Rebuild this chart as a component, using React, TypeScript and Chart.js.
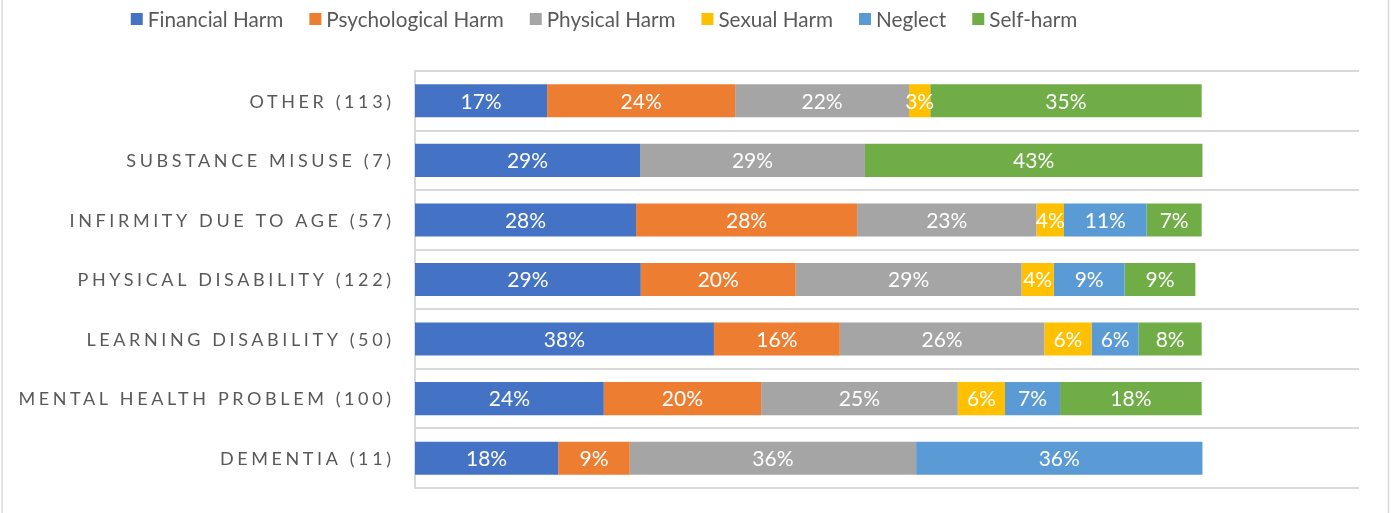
import React, { useEffect, useRef } from "react";
import { Chart, registerables } from "chart.js";

Chart.register(...registerables);

const categories = [
  "OTHER (113)",
  "SUBSTANCE MISUSE (7)",
  "INFIRMITY DUE TO AGE (57)",
  "PHYSICAL DISABILITY (122)",
  "LEARNING DISABILITY (50)",
  "MENTAL HEALTH PROBLEM (100)",
  "DEMENTIA (11)",
];

const seriesNames = ["Financial Harm", "Psychological Harm", "Physical Harm", "Sexual Harm", "Neglect", "Self-harm"];
const seriesColors = ["#4472C4", "#ED7D31", "#A5A5A5", "#FFC000", "#5B9BD5", "#70AD47"];

const financialHarm = [16.8, 28.6, 28.1, 28.7, 38, 24, 18.2];
const psychologicalHarm = [23.9, 0, 28.1, 19.7, 16, 20, 9.1];
const physicalHarm = [22.1, 28.6, 22.8, 28.7, 26, 25, 36.4];
const sexualHarm = [2.7, 0, 3.5, 4.1, 6, 6, 0];
const neglect = [0, 0, 10.5, 9.0, 6, 7, 36.4];
const selfHarm = [34.5, 42.9, 7.0, 9.0, 8, 18, 0];

const seriesValues = [financialHarm, psychologicalHarm, physicalHarm, sexualHarm, neglect, selfHarm];

const FONT = "Lato, 'Open Sans', sans-serif";
const TEXT_GREY = "#595959";
const LINE_GREY = "#D9D9D9";

const frame = {
  id: "frame",
  beforeDraw(chart: any) {
    const ctx = chart.ctx;
    ctx.save();
    ctx.fillStyle = "#ffffff";
    ctx.fillRect(0, 0, chart.width, chart.height);
    ctx.strokeStyle = LINE_GREY;
    ctx.lineWidth = 1.5;
    ctx.beginPath();
    ctx.moveTo(2, 0);
    ctx.lineTo(2, chart.height);
    ctx.moveTo(1388.5, 0);
    ctx.lineTo(1388.5, chart.height);
    ctx.stroke();
    ctx.restore();
  },
};

const valueLabels = {
  id: "valueLabels",
  afterDatasetsDraw(chart: any) {
    const ctx = chart.ctx;
    ctx.save();
    ctx.font = `21px ${FONT}`;
    ctx.fillStyle = "#ffffff";
    ctx.textAlign = "center";
    ctx.textBaseline = "middle";
    chart.data.datasets.forEach((ds: any, di: number) => {
      const meta = chart.getDatasetMeta(di);
      meta.data.forEach((el: any, i: number) => {
        const v = ds.data[i];
        if (!v) return;
        const cx = (el.x + el.base) / 2;
        ctx.fillText(`${Math.round(v)}%`, cx, el.y + 1);
      });
    });
    ctx.restore();
  },
};

const categoryLabels = {
  id: "categoryLabels",
  afterDraw(chart: any) {
    const ctx = chart.ctx;
    const yScale = chart.scales.y;
    const spacing = 3.6;
    ctx.save();
    ctx.font = `18px ${FONT}`;
    (ctx as any).letterSpacing = `${spacing}px`;
    ctx.fillStyle = TEXT_GREY;
    ctx.textAlign = "right";
    ctx.textBaseline = "middle";
    chart.data.labels.forEach((lab: string, i: number) => {
      const y = yScale.getPixelForValue(i);
      ctx.fillText(lab, chart.chartArea.left - 24 + spacing, y + 1);
    });
    ctx.restore();
  },
};

const topLegend = {
  id: "topLegend",
  afterDraw(chart: any) {
    const ctx = chart.ctx;
    ctx.save();
    ctx.font = `20.7px ${FONT}`;
    const box = 12;
    const gapBoxText = 5;
    const gapItems = 26;
    const items = chart.data.datasets.map((ds: any) => ({
      label: ds.label,
      color: ds.backgroundColor,
      w: ctx.measureText(ds.label).width,
    }));
    const total =
      items.reduce((s: number, it: any) => s + box + gapBoxText + it.w, 0) + gapItems * (items.length - 1);
    let x = 604 - total / 2;
    const cy = 19;
    ctx.textBaseline = "middle";
    ctx.textAlign = "left";
    items.forEach((it: any) => {
      ctx.fillStyle = it.color;
      ctx.fillRect(x, cy - box / 2, box, box);
      x += box + gapBoxText;
      ctx.fillStyle = TEXT_GREY;
      ctx.fillText(it.label, x, cy + 1);
      x += it.w + gapItems;
    });
    ctx.restore();
  },
};

export default function App() {
  const ref = useRef<HTMLCanvasElement>(null);

  useEffect(() => {
    document.body.style.margin = "0";
    const canvas = ref.current;
    if (!canvas) return;
    const chart = new Chart(canvas, {
      type: "bar",
      data: {
        labels: categories,
        datasets: seriesNames.map((name, i) => ({
          label: name,
          data: seriesValues[i],
          backgroundColor: seriesColors[i],
          borderWidth: 0,
          barPercentage: 0.555,
          categoryPercentage: 1,
        })),
      },
      options: {
        indexAxis: "y",
        responsive: false,
        animation: false,
        devicePixelRatio: 1,
        layout: { padding: { left: 415, right: 35, top: 71, bottom: 25 } },
        plugins: {
          legend: { display: false },
          tooltip: { enabled: false },
        },
        scales: {
          x: {
            stacked: true,
            min: 0,
            max: 120,
            display: false,
          },
          y: {
            stacked: true,
            offset: true,
            grid: {
              display: true,
              offset: true,
              color: LINE_GREY,
              lineWidth: 2,
              drawTicks: false,
            },
            border: { display: true, color: LINE_GREY, width: 2 },
            ticks: { display: false },
          },
        },
      },
      plugins: [frame, valueLabels, categoryLabels, topLegend],
    });
    return () => chart.destroy();
  }, []);

  return <canvas ref={ref} width={1394} height={513} style={{ display: "block", width: 1394, height: 513 }} />;
}
